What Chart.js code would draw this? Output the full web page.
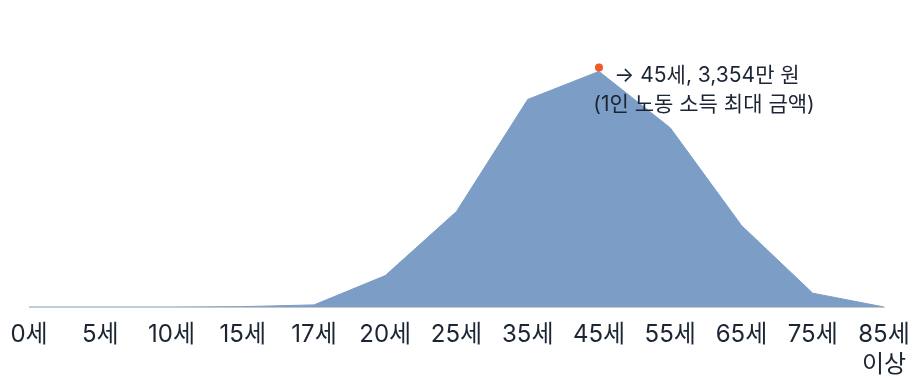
<!DOCTYPE html>
<html>
<head>
<meta charset="UTF-8">
<title>연령별 1인 노동 소득</title>
<script src="https://cdn.jsdelivr.net/npm/chart.js@4/dist/chart.umd.min.js"></script>
<style>
  body { margin: 0; background: #fff; }
  #wrap { width: 910px; height: 376px; }
</style>
</head>
<body>
<div id="wrap"><canvas id="chart-area"></canvas></div>
<script>
	// 연령대 (x축)
	var ageLabels = ['0세', '5세', '10세', '15세', '17세', '20세', '25세', '35세', '45세', '55세', '65세', '75세', ['85세', '이상']];
	// 1인 노동 소득 (만 원)
	var laborIncome = [0, 0, 0, 5, 30, 447, 1360, 2955, 3354, 2550, 1160, 197, 0];
	var peakIndex = 8;
	var noteLines = ['→ 45세, 3,354만 원', '(1인 노동 소득 최대 금액)'];

	var fontFamily = 'Inter, "Noto Sans CJK KR", sans-serif';

	// 최대값 표시 (점 + 설명)
	var peakNote = {
		id: 'peakNote',
		afterDatasetsDraw: function (chart) {
			var ctx = chart.ctx;
			var x = chart.scales.x.getPixelForValue(peakIndex);
			var y = chart.scales.y.getPixelForValue(laborIncome[peakIndex]);
			ctx.save();
			ctx.fillStyle = '#f05a28';
			ctx.beginPath();
			ctx.arc(x, y - 4, 4, 0, Math.PI * 2);
			ctx.fill();
			ctx.fillStyle = '#1b2533';
			ctx.font = '21px ' + fontFamily;
			ctx.textAlign = 'center';
			ctx.textBaseline = 'middle';
			ctx.fillText(noteLines[0], x + 108, y + 4);
			ctx.fillText(noteLines[1], x + 105, y + 33);
			ctx.restore();
		}
	};

	var config = {
		type: 'line',
		data: {
			labels: ageLabels,
			datasets: [{
				data: laborIncome,
				fill: 'origin',
				backgroundColor: '#7b9dc6',
				borderColor: '#7b9dc6',
				borderWidth: 1,
				pointRadius: 0,
				tension: 0
			}]
		},
		options: {
			responsive: true,
			maintainAspectRatio: false,
			animation: false,
			layout: { padding: { top: 26, left: 29, right: 26, bottom: -17 } },
			plugins: {
				legend: { display: false },
				tooltip: { enabled: false }
			},
			scales: {
				x: {
					offset: false,
					grid: { display: false, drawTicks: false },
					border: { display: true, color: '#c9c9c9', width: 1 },
					ticks: {
						color: '#1b2533',
						font: { family: fontFamily, size: 24, lineHeight: 1.25 },
						maxRotation: 0,
						autoSkip: false,
						padding: 13
					},
					afterFit: function (scale) {
						scale.paddingLeft = 0;
						scale.paddingRight = 0;
					}
				},
				y: {
					display: false,
					min: 0,
					max: 4000
				}
			}
		},
		plugins: [peakNote]
	};

	window.onload = function () {
		var ctx = document.getElementById('chart-area').getContext('2d');
		window.myChart = new Chart(ctx, config);
	};
</script>
</body>
</html>
